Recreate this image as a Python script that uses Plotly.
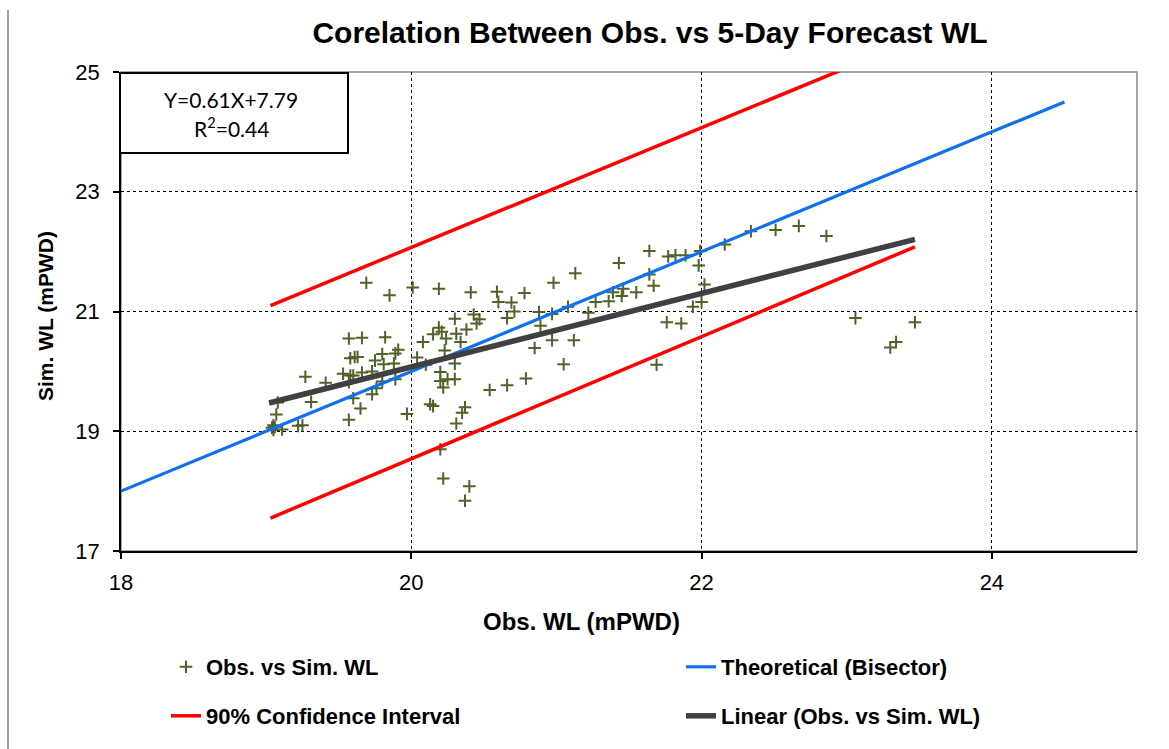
import plotly.graph_objects as go

# Observed vs simulated water levels (mPWD)
OBS_WL = [
    19.05, 19.04, 19.06, 19.05, 19.11, 19.07, 19.08, 19.22, 19.25, 19.27, 19.31, 19.41,
    19.57, 19.53, 19.58, 19.60, 19.66, 19.57, 19.60, 19.65, 19.57, 19.66, 19.58, 19.61,
    19.63, 19.69, 19.73, 19.75, 19.80, 19.81, 19.88, 19.91, 19.89, 19.82, 19.80, 19.89,
    19.76, 19.73, 19.85, 19.97,
    20.01, 20.19, 20.41, 20.04, 20.08, 20.10, 20.15, 20.19, 20.21, 20.24, 20.23, 20.30,
    20.31, 20.34, 20.30, 20.38, 20.43, 20.45, 20.47, 20.20, 20.20, 20.25, 20.30, 20.22,
    20.13, 20.15, 20.37, 20.35, 20.31, 20.20, 20.22, 20.40, 20.37,
    20.59, 20.78, 20.60, 20.69, 20.71, 20.66, 20.88, 20.89, 20.85, 20.97, 20.97, 20.98,
    20.54, 20.66, 20.79,
    21.13, 21.08, 21.12, 21.05, 21.22, 21.27, 21.36, 21.39, 21.46, 21.45, 21.55, 21.43,
    21.64, 21.64, 21.67, 21.69, 21.76, 21.86, 21.77, 21.82, 21.89, 21.99, 21.98, 22.02,
    21.94, 22.00,
    22.16, 22.34, 22.51, 22.67, 22.86, 23.06, 23.47, 23.34, 23.30,
]
SIM_WL = [
    19.10, 19.06, 19.07, 19.02, 19.03, 19.28, 19.48, 19.09, 19.10, 19.91, 19.49, 19.81,
    19.19, 19.96, 19.93, 19.93, 19.98, 19.82, 19.55, 19.38, 20.55, 20.56, 20.22, 20.24,
    20.24, 21.48, 20.00, 20.18, 20.29, 20.12, 20.13, 20.36, 20.30, 20.57, 19.83, 19.87,
    19.72, 19.62, 21.27, 19.29,
    21.40, 21.38, 21.32, 20.23, 20.49, 20.11, 20.62, 20.73, 20.66, 20.55, 20.35, 20.88,
    20.63, 20.49, 20.13, 20.70, 20.95, 20.80, 20.87, 19.99, 19.84, 19.87, 19.87, 19.73,
    19.45, 19.42, 19.40, 19.31, 19.13, 18.70, 18.21, 18.08, 17.84,
    21.33, 21.31, 21.16, 21.15, 21.00, 20.89, 20.99, 20.76, 20.39, 20.96, 20.52, 21.48,
    19.69, 19.77, 19.88,
    21.64, 21.08, 20.52, 20.12, 20.98, 21.16, 21.17, 21.32, 21.38, 21.26, 21.32, 21.81,
    22.01, 21.62, 21.43, 20.11, 20.82, 20.80, 21.92, 21.94, 21.94, 22.01, 21.77, 21.45,
    21.08, 21.16,
    22.12, 22.34, 22.36, 22.43, 22.26, 20.89, 20.82, 20.49, 20.40,
]

# Reference lines
BISECTOR_X = [18.0, 24.5]
CI_X = [19.03, 23.47]
CI_UPPER = [21.10, 25.54]
CI_LOWER = [17.55, 22.08]

# Linear trend of simulated on observed
FIT_SLOPE = 0.614
FIT_INTERCEPT = 7.794
R_SQUARED = 0.44
FIT_X = [19.02, 23.47]
FIT_Y = [FIT_SLOPE * v + FIT_INTERCEPT for v in FIT_X]

X_TICKS = [18, 20, 22, 24]
Y_TICKS = [17, 19, 21, 23, 25]

W, H = 1169, 749
ML, MR, MT, MB = 121, 32, 72, 198
PW, PH = W - ML - MR, H - MT - MB


def px_x(p):
    return (p - ML) / PW


def px_y(p):
    return (H - MB - p) / PH


BASE_FONT = "Liberation Sans, Arial, sans-serif"
LEGEND_FONT = dict(family=BASE_FONT, size=22, color="black", weight="bold")


def legend_at(text_left, row_y):
    # one legend box per entry, placed by the left edge of its label
    return dict(
        orientation="h", x=px_x(text_left - 41), y=px_y(row_y),
        xanchor="left", yanchor="middle", xref="paper", yref="paper",
        font=LEGEND_FONT, bgcolor="rgba(0,0,0,0)", borderwidth=0,
    )


fig = go.Figure()

fig.add_trace(go.Scatter(
    x=OBS_WL, y=SIM_WL, mode="markers", name="Obs. vs Sim. WL",
    marker=dict(symbol="cross-thin", size=9, color="#4F6228",
                line=dict(color="#4F6228", width=2)),
    legend="legend",
))
fig.add_trace(go.Scatter(
    x=BISECTOR_X, y=BISECTOR_X, mode="lines", name="Theoretical (Bisector)",
    line=dict(color="#1070F0", width=3.2), legend="legend2",
))
fig.add_trace(go.Scatter(
    x=CI_X, y=CI_UPPER, mode="lines", name="90% Confidence Interval",
    line=dict(color="#FF0000", width=3.5), legend="legend3", legendgroup="ci",
))
fig.add_trace(go.Scatter(
    x=CI_X, y=CI_LOWER, mode="lines", name="90% Confidence Interval",
    line=dict(color="#FF0000", width=3.5), legend="legend3", legendgroup="ci",
    showlegend=False,
))
fig.add_trace(go.Scatter(
    x=FIT_X, y=FIT_Y, mode="lines", name="Linear (Obs. vs Sim. WL)",
    line=dict(color="#404040", width=5.5), legend="legend4",
))

axis_common = dict(
    showgrid=True, gridcolor="black", gridwidth=1, griddash="dot",
    showline=True, linecolor="black", linewidth=1.5,
    ticks="outside", ticklen=6, tickcolor="black", tickwidth=1.5,
    tickfont=dict(family=BASE_FONT, size=22, color="black"),
    zeroline=False, fixedrange=True,
)

fig.update_layout(
    width=W, height=H, autosize=False,
    margin=dict(l=ML, r=MR, t=MT, b=MB, autoexpand=False),
    paper_bgcolor="white", plot_bgcolor="white",
    font=dict(family=BASE_FONT, color="black"),
    title=dict(
        text="<b>Corelation Between Obs. vs 5-Day Forecast WL</b>",
        x=650 / W, xref="container", xanchor="center",
        y=1 - 32 / H, yref="container", yanchor="middle",
        font=dict(family=BASE_FONT, size=30, color="black"),
    ),
    xaxis=dict(range=[18, 25], tickvals=X_TICKS, ticklabelstandoff=5, **axis_common),
    yaxis=dict(range=[17, 25], tickvals=Y_TICKS, ticklabelstandoff=9, **axis_common),
    showlegend=True,
    legend=legend_at(207, 667),
    legend2=legend_at(722, 667),
    legend3=legend_at(207, 716),
    legend4=legend_at(722, 716),
)

# Plot-area frame (grey) and the chart's left edge line
fig.add_shape(type="rect", xref="paper", yref="paper", x0=0, x1=1, y0=0, y1=1,
              line=dict(color="#8C8C8C", width=1.5), layer="below")
fig.add_shape(type="line", xref="paper", yref="paper",
              x0=px_x(8), x1=px_x(8), y0=px_y(10), y1=px_y(749),
              line=dict(color="#7F7F7F", width=1.5))

# Regression equation box
fig.add_shape(type="rect", xref="paper", yref="paper",
              x0=px_x(120), x1=px_x(348), y0=px_y(153), y1=px_y(73),
              line=dict(color="black", width=2), fillcolor="white", layer="above")
eq_font = dict(family="Lato, Open Sans, sans-serif", size=21, color="black")
fig.add_annotation(xref="paper", yref="paper", x=px_x(231), y=px_y(100),
                   text=f"Y={FIT_SLOPE:.2f}X+{FIT_INTERCEPT:.2f}", showarrow=False,
                   font=eq_font, xanchor="center", yanchor="middle")
fig.add_annotation(xref="paper", yref="paper", x=px_x(231), y=px_y(127),
                   text=f"R<sup>2</sup>={R_SQUARED:.2f}", showarrow=False,
                   font=eq_font, xanchor="center", yanchor="middle")

# Axis titles
fig.add_annotation(xref="paper", yref="paper", x=px_x(581), y=px_y(621),
                   text="<b>Obs. WL (mPWD)</b>", showarrow=False,
                   font=dict(family=BASE_FONT, size=24, color="black"),
                   xanchor="center", yanchor="middle")
fig.add_annotation(xref="paper", yref="paper", x=px_x(45), y=px_y(316),
                   text="<b>Sim. WL (mPWD)</b>", showarrow=False,
                   font=dict(family=BASE_FONT, size=21, color="black"),
                   textangle=-90, xanchor="center", yanchor="middle")

fig.write_html("out.html")
